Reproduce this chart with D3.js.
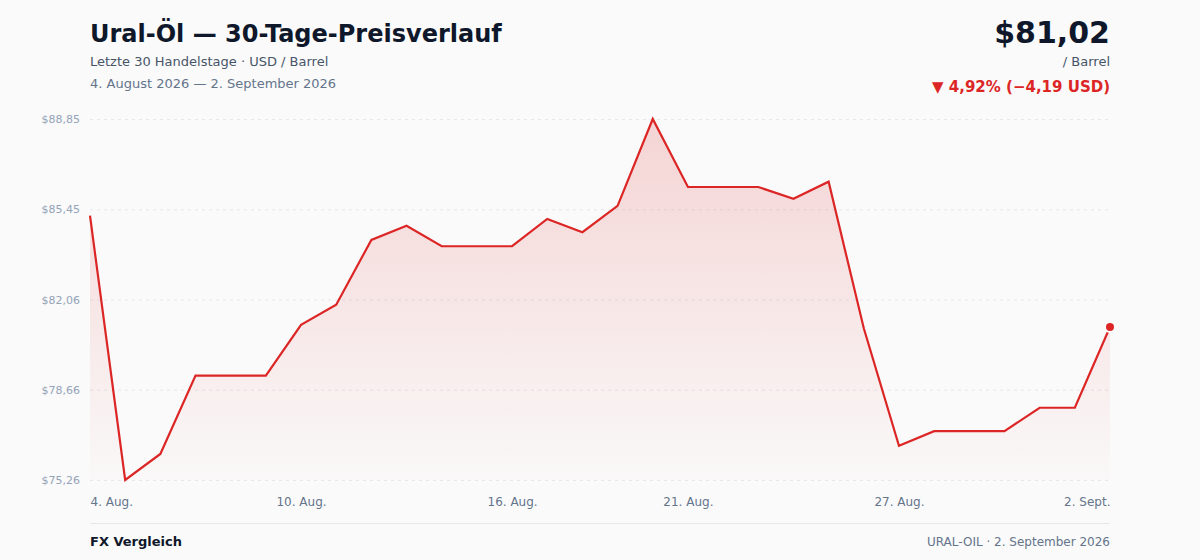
<!DOCTYPE html>
<html><head><meta charset="utf-8">
<script src="https://cdn.jsdelivr.net/npm/d3@7/dist/d3.min.js"></script>
<style>
html,body{margin:0;padding:0;background:#fafafa;}
svg{display:block;font-family:"DejaVu Sans",sans-serif;}
</style></head>
<body>
<svg id="chart" width="1200" height="560"></svg>
<script>
const dayLabels = ["4. Aug.","5. Aug.","6. Aug.","7. Aug.","8. Aug.","9. Aug.","10. Aug.","11. Aug.","12. Aug.","13. Aug.","14. Aug.","15. Aug.","16. Aug.","17. Aug.","18. Aug.","19. Aug.","20. Aug.","21. Aug.","22. Aug.","23. Aug.","24. Aug.","25. Aug.","26. Aug.","27. Aug.","28. Aug.","29. Aug.","30. Aug.","31. Aug.","1. Sept.","2. Sept."];
const prices = [85.21,75.26,76.24,79.19,79.19,79.19,81.10,81.86,84.30,84.83,84.06,84.06,84.06,85.09,84.59,85.58,88.85,86.29,86.29,86.29,85.85,86.49,80.97,76.55,77.10,77.10,77.10,77.98,77.98,81.02];
const xTickIndex = [0,6,12,17,23,29];
const yTickLabels = ["$75,26","$78,66","$82,06","$85,45","$88,85"];

const svg = d3.select("#chart");
const mLeft = 90, mRight = 1110, mTop = 119, mBottom = 480;
const red = "#dc2626";

const x = d3.scaleLinear().domain([0, prices.length - 1]).range([mLeft, mRight]);
const yMin = d3.min(prices), yMax = d3.max(prices);
const y = d3.scaleLinear().domain([yMin, yMax]).range([mBottom, mTop]);
const yTicks = d3.range(5).map(i => yMin + (yMax - yMin) * i / 4);

// Header
svg.append("text").attr("x", mLeft).attr("y", 42).attr("font-size", 24).attr("font-weight", "bold").attr("fill", "#0f172a").text("Ural-Öl — 30-Tage-Preisverlauf");
svg.append("text").attr("x", mLeft).attr("y", 66).attr("font-size", 13).attr("fill", "#475569").text("Letzte 30 Handelstage · USD / Barrel");
svg.append("text").attr("x", mLeft).attr("y", 88).attr("font-size", 13).attr("fill", "#64748b").text("4. August 2026 — 2. September 2026");

svg.append("text").attr("x", mRight).attr("y", 43).attr("text-anchor", "end").attr("font-size", 30).attr("font-weight", "bold").attr("fill", "#0f172a").text("$81,02");
svg.append("text").attr("x", mRight).attr("y", 66).attr("text-anchor", "end").attr("font-size", 13).attr("fill", "#475569").text("/ Barrel");
svg.append("text").attr("x", mRight).attr("y", 92).attr("text-anchor", "end").attr("font-size", 15).attr("font-weight", "bold").attr("fill", red).text("▼ 4,92% (−4,19 USD)");

// gradient
const defs = svg.append("defs");
const grad = defs.append("linearGradient").attr("id", "areaGrad").attr("gradientUnits", "userSpaceOnUse")
  .attr("x1", 0).attr("x2", 0).attr("y1", mTop).attr("y2", mBottom);
grad.append("stop").attr("offset", "0%").attr("stop-color", red).attr("stop-opacity", 0.18);
grad.append("stop").attr("offset", "100%").attr("stop-color", red).attr("stop-opacity", 0.01);

// Grid + y axis
const yAxis = d3.axisLeft(y).tickValues(yTicks).tickSize(-(mRight - mLeft)).tickPadding(10)
  .tickFormat((d, i) => yTickLabels[i]);
const gy = svg.append("g").attr("transform", `translate(${mLeft},0)`).call(yAxis);
gy.select(".domain").remove();
gy.selectAll(".tick line").attr("stroke", "#e5e7eb").attr("stroke-dasharray", "3,4");
gy.selectAll(".tick text").attr("fill", "#94a3b8").attr("font-size", 11).attr("font-family", "DejaVu Sans, sans-serif");

// Area + line
const area = d3.area().x((d, i) => x(i)).y0(mBottom).y1(d => y(d));
svg.append("path").datum(prices).attr("d", area).attr("fill", "url(#areaGrad)");
const line = d3.line().x((d, i) => x(i)).y(d => y(d));
svg.append("path").datum(prices).attr("d", line).attr("fill", "none").attr("stroke", red).attr("stroke-width", 2.2).attr("stroke-linejoin", "miter");

const last = prices.length - 1;
svg.append("circle").attr("cx", x(last)).attr("cy", y(prices[last])).attr("r", 5)
  .attr("fill", red).attr("stroke", "#fafafa").attr("stroke-width", 2);

// X axis
const xAxis = d3.axisBottom(x).tickValues(xTickIndex).tickSize(0).tickPadding(0)
  .tickFormat(i => dayLabels[i]);
const gx = svg.append("g").attr("transform", `translate(0,${mBottom})`).call(xAxis);
gx.select(".domain").remove();
gx.selectAll(".tick text").attr("fill", "#64748b").attr("font-size", 12).attr("font-family", "DejaVu Sans, sans-serif")
  .attr("dy", 0).attr("y", 26)
  .attr("text-anchor", (d, i) => i === 0 ? "start" : (i === xTickIndex.length - 1 ? "end" : "middle"));

// Footer
svg.append("line").attr("x1", mLeft).attr("x2", mRight).attr("y1", 523.5).attr("y2", 523.5).attr("stroke", "#e5e7eb").attr("stroke-width", 1);
svg.append("text").attr("x", mLeft).attr("y", 546).attr("font-size", 13).attr("font-weight", "bold").attr("fill", "#0f172a").text("FX Vergleich");
svg.append("text").attr("x", mRight).attr("y", 546).attr("text-anchor", "end").attr("font-size", 12).attr("fill", "#64748b").text("URAL-OIL · 2. September 2026");
</script>
</body></html>
